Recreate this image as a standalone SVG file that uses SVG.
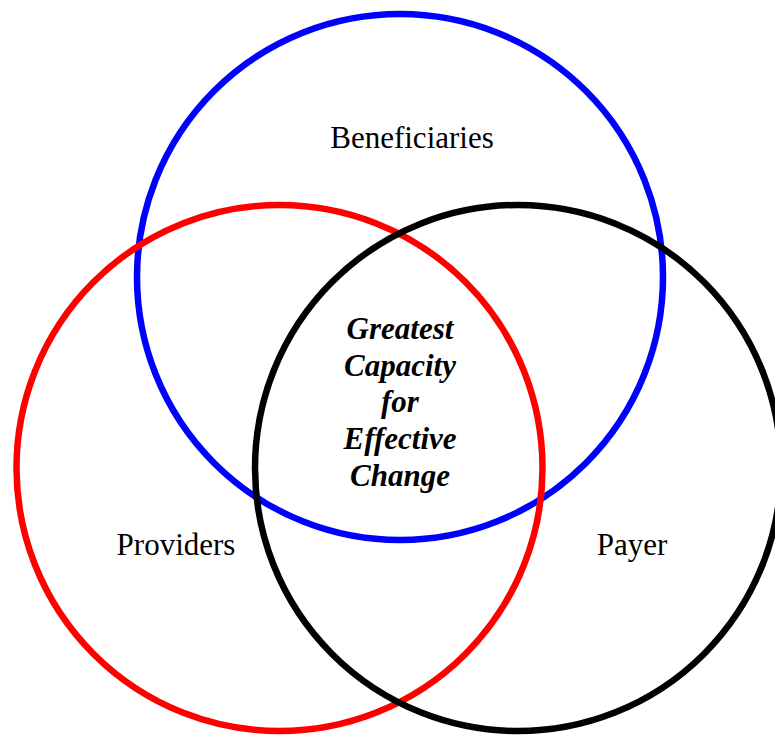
<svg xmlns="http://www.w3.org/2000/svg" width="775" height="736" viewBox="0 0 775 736">
<style>
.ring{fill:none;stroke-width:6.5}
.lbl{font-family:"Liberation Serif","Times New Roman",serif;font-size:31px;fill:#000;text-anchor:middle}
.ctr{font-family:"Liberation Serif","Times New Roman",serif;font-size:31px;font-weight:bold;font-style:italic;fill:#000;text-anchor:middle}
</style>
<rect width="775" height="736" fill="#fff"/>
<g id="beneficiaries">
<circle class="ring" cx="400" cy="277" r="263" stroke="#0000ff"/>
<text class="lbl" x="412" y="148">Beneficiaries</text>
</g>
<g id="providers">
<circle class="ring" cx="279.5" cy="468" r="263" stroke="#ff0000"/>
<text class="lbl" x="176" y="555">Providers</text>
</g>
<g id="payer">
<circle class="ring" cx="518" cy="468" r="263" stroke="#000000"/>
<text class="lbl" x="632" y="555">Payer</text>
</g>
<g id="center">
<text class="ctr" x="400" y="339">Greatest</text>
<text class="ctr" x="400" y="376">Capacity</text>
<text class="ctr" x="400" y="412">for</text>
<text class="ctr" x="400" y="449">Effective</text>
<text class="ctr" x="400" y="486">Change</text>
</g>
</svg>
